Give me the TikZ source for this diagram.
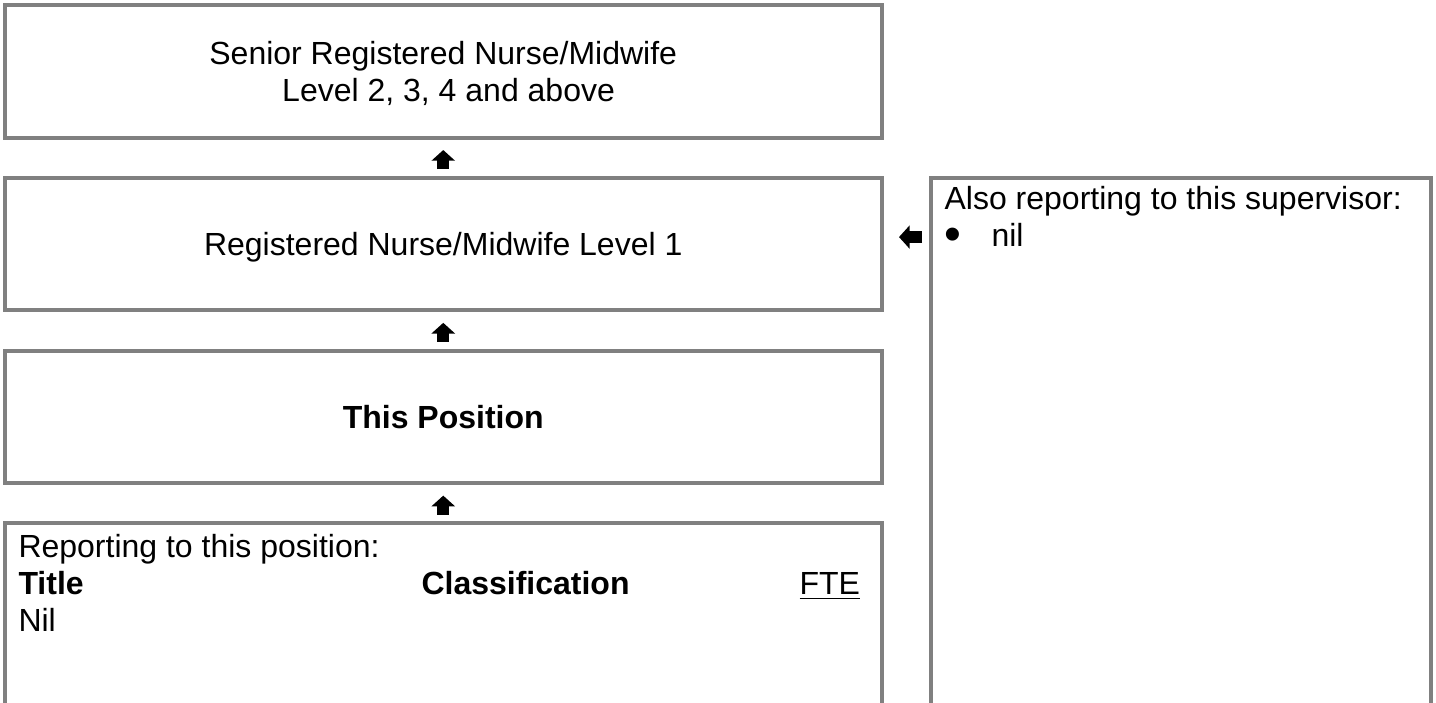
\documentclass[tikz,border=0pt]{standalone}
\usepackage{fontspec}
\setmainfont{Liberation Sans}
\usetikzlibrary{positioning, arrows.meta, calc}
\definecolor{boxgray}{RGB}{128,128,128}
\tikzset{
	rolebox/.style={
		draw=boxgray,
		line width=1.5pt,
		minimum width=328.7pt,
		minimum height=49.7pt,
		inner sep=0pt,
		text depth=0pt,
		align=center,
	},
	txt/.style={
		inner sep=0pt,
		anchor=base west,
	},
	blockarrow/.style={
		line width=4.5pt,
		-{Triangle[width=8.6pt,length=4pt]},
	},
}

\begin{document}
\begin{tikzpicture}[x=0.375pt, y=-0.375pt, font=\fontsize{12}{13.8}\selectfont]
\useasboundingbox (0,0) rectangle (1436,702);

% chain of positions
\node(senior)[rolebox] at (443.25,71.25) {Senior Registered Nurse/Midwife\\ \hspace{4pt}Level 2, 3, 4 and above};
\node(rn1)[rolebox, below=13.6pt of senior] {Registered Nurse/Midwife Level 1};
\node(thispos)[rolebox, below=13.6pt of rn1] {\textbf{This Position}};
\node(reports)[rolebox, minimum height=85pt, below=13.6pt of thispos] {};

\node(hdr)[txt] at ([shift={(15,36.5)}]reports.north west) {Reporting to this position:};
\node(ttl)[txt] at ([shift={(0,36.8)}]hdr.base west) {\textbf{Title}};
\node(cls)[txt] at ([shift={(403,0)}]ttl.base west) {\textbf{Classification}};
\node(fte)[txt] at ([shift={(781,0)}]ttl.base west) {\underline{FTE}};
\node(nil)[txt] at ([shift={(0,36.8)}]ttl.base west) {Nil};

% side box
\node(also)[rolebox, minimum width=187.5pt, minimum height=210pt, below right=0pt and 16.9pt of rn1.north east] {};
\node(alsohdr)[txt] at ([shift={(15.5,34)}]also.north west) {Also reporting to this supervisor:};
\node(nilitem)[txt] at ([shift={(0,37)}]alsohdr.base west) {\makebox[17.6pt][l]{\raisebox{-1.4pt}{\fontsize{18}{18}\selectfont\textbullet}}nil};

\draw[blockarrow, shorten <=2.54pt, shorten >=3.94pt] (rn1.north) -- (senior.south);
\draw[blockarrow, shorten <=2.54pt, shorten >=3.94pt] (thispos.north) -- (rn1.south);
\draw[blockarrow, shorten <=2.54pt, shorten >=3.94pt] (reports.north) -- (thispos.south);
\draw[blockarrow, shorten <=2.46pt, shorten >=5.81pt] (also.west |- nilitem) -- (rn1.east |- nilitem);

\end{tikzpicture}
\end{document}
